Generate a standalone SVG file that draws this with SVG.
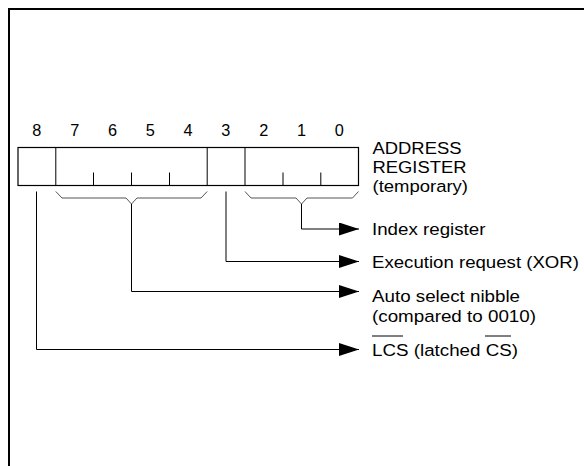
<svg xmlns="http://www.w3.org/2000/svg" width="584" height="466" viewBox="0 0 584 466">
<defs>
<style>
.t{font-family:"Liberation Sans",Arial,Helvetica,sans-serif;font-size:16.3px;fill:#000}
.d{text-anchor:middle}
.ln{fill:none;stroke:#000;stroke-width:1}
.br{fill:none;stroke:#555;stroke-width:1}
.box{fill:#fff;stroke:#000;stroke-width:1.2}
.fr{fill:none;stroke:#000;stroke-width:2}
</style>
<marker id="ah" markerUnits="userSpaceOnUse" markerWidth="21" markerHeight="14" refX="20" refY="6.5" orient="auto">
<path d="M0,0 L20,6.5 L0,13 Z" fill="#000"/>
</marker>
</defs>
<rect width="584" height="466" fill="#fff"/>
<g id="frame">
<path class="fr" d="M9,466 V9 H584"/>
</g>
<g id="register">
<rect class="box" x="18" y="147.5" width="340.5" height="38"/>
<line class="ln" x1="55.8" y1="147.5" x2="55.8" y2="185.5" stroke-width="1.2"/>
<line class="ln" x1="207.2" y1="147.5" x2="207.2" y2="185.5" stroke-width="1.2"/>
<line class="ln" x1="245" y1="147.5" x2="245" y2="185.5" stroke-width="1.5"/>
<line class="ln" x1="93.5" y1="172.5" x2="93.5" y2="185.5"/>
<line class="ln" x1="131.5" y1="172.5" x2="131.5" y2="185.5"/>
<line class="ln" x1="169.5" y1="172.5" x2="169.5" y2="185.5"/>
<line class="ln" x1="283" y1="172.5" x2="283" y2="185.5"/>
<line class="ln" x1="320.8" y1="172.5" x2="320.8" y2="185.5"/>
<text class="t d" x="36.9" y="136">8</text>
<text class="t d" x="74.7" y="136">7</text>
<text class="t d" x="112.5" y="136">6</text>
<text class="t d" x="150.3" y="136">5</text>
<text class="t d" x="188.1" y="136">4</text>
<text class="t d" x="225.9" y="136">3</text>
<text class="t d" x="263.7" y="136">2</text>
<text class="t d" x="301.5" y="136">1</text>
<text class="t d" x="339.3" y="136">0</text>
</g>
<g id="register-label">
<text class="t" x="372.5" y="154.3" textLength="89" lengthAdjust="spacingAndGlyphs">ADDRESS</text>
<text class="t" x="372.5" y="173.3" textLength="94" lengthAdjust="spacingAndGlyphs">REGISTER</text>
<text class="t" x="372.5" y="192.3" textLength="95.5" lengthAdjust="spacingAndGlyphs">(temporary)</text>
</g>
<g id="braces">
<path class="br" d="M55.8,191.5 L62,198 H126 L131.5,204 L137,198 H201 L207.2,191.5"/>
<path class="br" d="M245,191.5 L251,198 H296 L301.5,204 L307,198 H352.5 L358.5,191.5"/>
</g>
<g id="connectors">
<path class="ln" d="M301.5,204 V229 H359" marker-end="url(#ah)"/>
<path class="ln" d="M226,191.5 V261.5 H359" marker-end="url(#ah)"/>
<path class="ln" d="M131.5,204 V291.5 H359" marker-end="url(#ah)"/>
<path class="ln" d="M36.5,191.5 V349.5 H359" marker-end="url(#ah)"/>
</g>
<g id="index-register">
<text class="t" x="372" y="235.3" textLength="113.5" lengthAdjust="spacingAndGlyphs">Index register</text>
</g>
<g id="execution-request">
<text class="t" x="372" y="267.6" textLength="207" lengthAdjust="spacingAndGlyphs">Execution request (XOR)</text>
</g>
<g id="auto-select">
<text class="t" x="372" y="302.3" textLength="148" lengthAdjust="spacingAndGlyphs">Auto select nibble</text>
<text class="t" x="372" y="321.8" textLength="164" lengthAdjust="spacingAndGlyphs">(compared to 0010)</text>
</g>
<g id="lcs">
<text class="t" x="372" y="355.8" textLength="146" lengthAdjust="spacingAndGlyphs">LCS (latched CS)</text>
<line class="ln" x1="372" y1="336" x2="403" y2="336"/>
<line class="ln" x1="485" y1="336" x2="511" y2="336"/>
</g>
</svg>
